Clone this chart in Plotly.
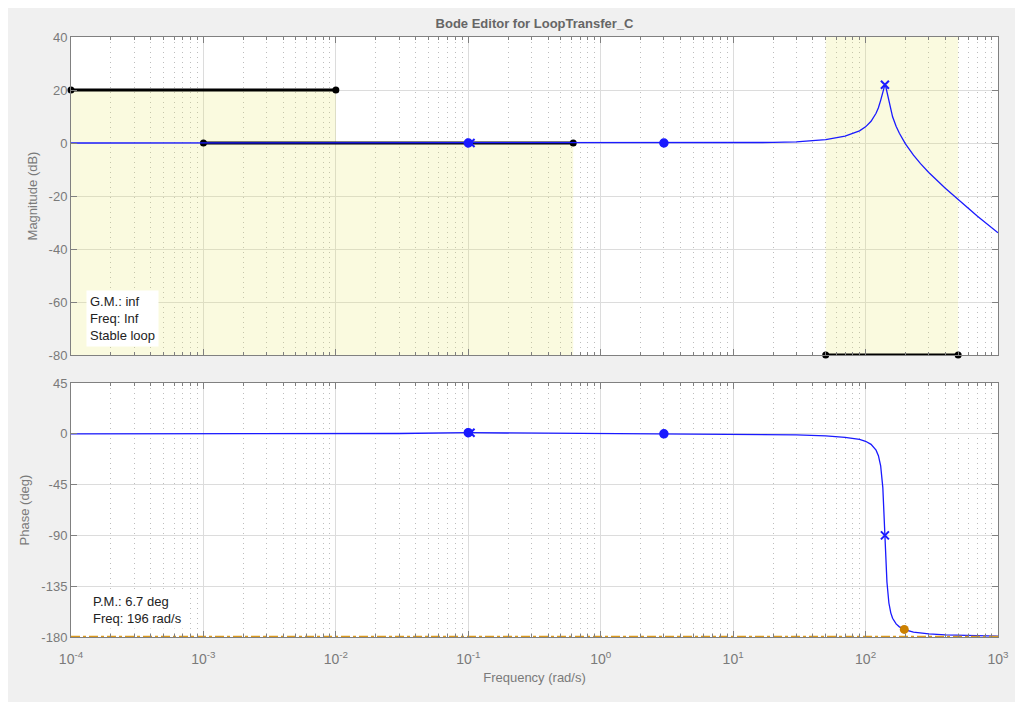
import plotly.graph_objects as go

# ---------------- data ----------------
freq = [1e-4, 1e-3, 1e-2, 0.03, 0.1, 0.3, 1, 3, 10, 20, 30, 50, 70, 90, 100, 110, 120,
        125, 130, 135, 138, 140, 142, 145, 150, 155, 160, 170, 180, 200, 230, 260, 300,
        400, 500, 700, 1000]
mag_db = [0, 0, 0, 0, 0, 0, 0, 0, 0.05, 0.2, 0.45, 1.3, 2.6, 4.6, 6.1, 8.2, 11.2,
          13.3, 16.1, 19.6, 21.5, 22.0, 21.3, 19.2, 15.3, 12.3, 9.9, 6.3, 3.7, -0.3, -4.6,
          -7.8, -11.1, -17.1, -21.4, -27.6, -33.9]
phase_deg = [0, 0, 0.1, 0.3, 1.0, 0.6, 0.3, 0, -0.3, -0.7, -1.0, -1.9, -3.1, -5.0, -6.6,
             -9.3, -14.5, -19.4, -28.3, -47.7, -70.2, -90, -109.6, -131.3, -149.9, -158.6,
             -163.4, -168.4, -171.0, -173.7, -175.6, -176.5, -177.3, -178.2, -178.6,
             -179.0, -179.3]

# compensator / plant markers
zero_freq = [0.1, 3]
zero_mag = [0, 0]
zero_phase = [1.0, 0]
pole_freq = [0.104, 140]
pole_mag = [0, 22.0]
pole_phase = [1.0, -90]

# design constraints (magnitude): lower bounds (shaded below), upper bound (shaded above)
lb1 = (1e-4, 1e-2, 20)
lb2 = (1e-3, 0.62, 0)
ub1 = (50, 500, -80)

# phase margin
pm_freq = [196]
pm_phase = [-173.3]
pm_ref_freq = [1e-4, 1e3]
pm_ref_phase = [-180, -180]

mag_range = [-80, 40]
phase_range = [-180, 45]

x_tickvals = [1e-4, 1e-3, 1e-2, 1e-1, 1e0, 1e1, 1e2, 1e3]
x_ticktext = ["10<sup>-4</sup>", "10<sup>-3</sup>", "10<sup>-2</sup>", "10<sup>-1</sup>",
              "10<sup>0</sup>", "10<sup>1</sup>", "10<sup>2</sup>", "10<sup>3</sup>"]
mag_tickvals = [-80, -60, -40, -20, 0, 20, 40]
mag_ticktext = ["-80", "-60", "-40", "-20", "0", "20", "40"]
ph_tickvals = [-180, -135, -90, -45, 0, 45]
ph_ticktext = ["-180", "-135", "-90", "-45", "0", "45"]

title_text = "Bode Editor for LoopTransfer_C"
gm_text = "G.M.: inf<br>Freq: Inf<br>Stable loop"
pm_text = "P.M.: 6.7 deg<br>Freq: 196 rad/s"

# ---------------- styling ----------------
BLUE = "#1a1aff"
SHADE = "rgba(232,232,110,0.22)"
AXC = "#808080"
TXT = "#7a7a7a"
FONT = "Liberation Sans, Helvetica, Arial, sans-serif"

fig = go.Figure()

# shaded lower-bound region (union of the two lower bounds)
lb_x = [lb1[0], lb2[1], lb2[1], lb1[1], lb1[1], lb1[0], lb1[0]]
lb_y = [mag_range[0], mag_range[0], lb2[2], lb2[2], lb1[2], lb1[2], mag_range[0]]
fig.add_trace(go.Scatter(x=lb_x, y=lb_y, fill="toself", fillcolor=SHADE, line=dict(width=0),
                         mode="lines", hoverinfo="skip", xaxis="x", yaxis="y"))
# shaded upper-bound region
ub_x = [ub1[0], ub1[1], ub1[1], ub1[0], ub1[0]]
ub_y = [ub1[2], ub1[2], mag_range[1], mag_range[1], ub1[2]]
fig.add_trace(go.Scatter(x=ub_x, y=ub_y, fill="toself", fillcolor=SHADE, line=dict(width=0),
                         mode="lines", hoverinfo="skip", xaxis="x", yaxis="y"))

# constraint lines
for f0, f1, lvl in (lb1, lb2, ub1):
    fig.add_trace(go.Scatter(x=[f0, f1], y=[lvl, lvl], mode="lines+markers",
                             line=dict(color="black", width=3), marker=dict(color="black", size=7),
                             cliponaxis=False, xaxis="x", yaxis="y"))

# magnitude curve
fig.add_trace(go.Scatter(x=freq, y=mag_db, mode="lines", line=dict(color=BLUE, width=1.3),
                         xaxis="x", yaxis="y"))
# phase curve
fig.add_trace(go.Scatter(x=freq, y=phase_deg, mode="lines", line=dict(color=BLUE, width=1.3),
                         xaxis="x2", yaxis="y2"))

# PM reference line and marker
fig.add_trace(go.Scatter(x=pm_ref_freq, y=pm_ref_phase, mode="lines",
                         line=dict(color="#dc9a1e", width=2.5, dash="dashdot"),
                         cliponaxis=False, xaxis="x2", yaxis="y2"))
fig.add_trace(go.Scatter(x=pm_freq, y=pm_phase, mode="markers",
                         marker=dict(color="#cc8000", size=9), xaxis="x2", yaxis="y2"))

# zeros / poles markers
for xa, ya, zy, py in (("x", "y", zero_mag, pole_mag), ("x2", "y2", zero_phase, pole_phase)):
    fig.add_trace(go.Scatter(x=zero_freq, y=zy, mode="markers",
                             marker=dict(color=BLUE, size=8, line=dict(color=BLUE, width=1.5)),
                             xaxis=xa, yaxis=ya))
    fig.add_trace(go.Scatter(x=pole_freq, y=py, mode="markers",
                             marker=dict(symbol="x-thin", color=BLUE, size=8,
                                         line=dict(color=BLUE, width=2)),
                             xaxis=xa, yaxis=ya))

minor_x = dict(dtick="D1", ticks="inside", ticklen=3, tickcolor=AXC,
               showgrid=True, gridcolor="#bdbdbd", griddash="1px,4px", gridwidth=1)
common_x = dict(type="log", range=[-4, 3], tickmode="array", tickvals=x_tickvals,
                ticktext=x_ticktext, ticks="inside", ticklen=6, tickcolor=AXC,
                showline=True, linecolor=AXC, linewidth=1, mirror="ticks",
                showgrid=True, gridcolor="#dcdcdc", gridwidth=1, zeroline=False,
                minor=minor_x, automargin=False,
                tickfont=dict(size=14, color=TXT, family=FONT))
common_y = dict(ticks="inside", ticklen=6, tickcolor=AXC, showline=True, linecolor=AXC,
                linewidth=1, mirror="ticks", showgrid=True, gridcolor="#dcdcdc", zeroline=False,
                automargin=False, tickmode="array",
                tickfont=dict(size=13, color=TXT, family=FONT))

fig.update_layout(
    width=1023, height=702,
    margin=dict(l=63, r=33, t=29, b=73),
    paper_bgcolor="#f0f0f0", plot_bgcolor="white",
    font=dict(family=FONT, color=TXT),
    showlegend=False,
    xaxis=dict(common_x, anchor="y", domain=[0, 1], showticklabels=False, matches="x2"),
    yaxis=dict(common_y, anchor="x", domain=[0.47, 1], range=mag_range,
               tickvals=mag_tickvals, ticktext=mag_ticktext,
               title=dict(text="Magnitude (dB)", font=dict(size=13, color=TXT), standoff=8)),
    xaxis2=dict(common_x, anchor="y2", domain=[0, 1], ticklabelstandoff=9,
                title=dict(text="Frequency (rad/s)", font=dict(size=13, color=TXT), standoff=7)),
    yaxis2=dict(common_y, anchor="x2", domain=[0, 0.4233], range=phase_range,
                tickvals=ph_tickvals, ticktext=ph_ticktext,
                title=dict(text="Phase (deg)", font=dict(size=13, color=TXT), standoff=8)),
    title=dict(text="<b>" + title_text + "</b>", x=0.5, xref="paper", xanchor="center",
               y=1 - 15 / 702, yref="container", yanchor="middle", automargin=False,
               font=dict(size=13, color="#666666", family=FONT)),
)

fig.add_annotation(text=gm_text, xref="x domain", yref="y domain", x=0.016, y=0.025,
                   xanchor="left", yanchor="bottom", align="left", showarrow=False,
                   bgcolor="white", borderpad=3, font=dict(size=13, color="#222222", family=FONT))
fig.add_annotation(text=pm_text, xref="x2 domain", yref="y2 domain", x=0.02, y=0.03,
                   xanchor="left", yanchor="bottom", align="left", showarrow=False,
                   bgcolor="white", borderpad=2, font=dict(size=13, color="#222222", family=FONT))

fig.write_html("out.html")
